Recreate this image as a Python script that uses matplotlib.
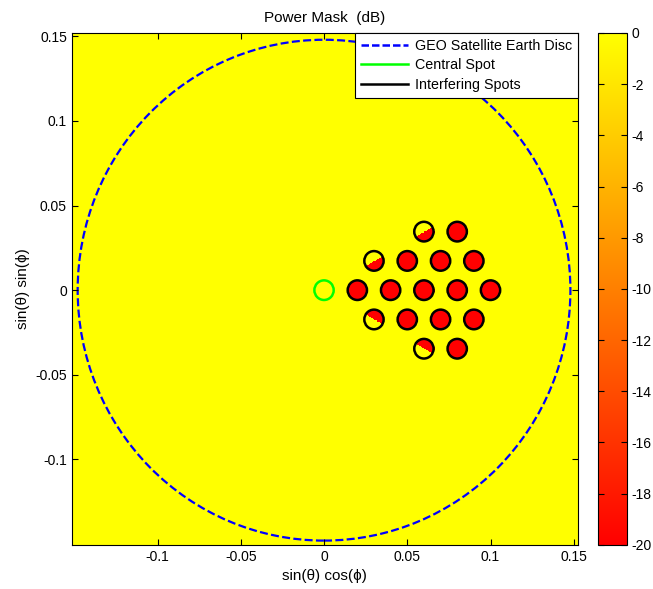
import numpy as np
import matplotlib.pyplot as plt
from matplotlib.patches import Circle
from matplotlib.lines import Line2D

plt.rcParams['font.family'] = ['Liberation Sans', 'DejaVu Sans']
plt.rcParams['axes.unicode_minus'] = False

# geometry of the coverage (u = sin(theta)cos(phi), v = sin(theta)sin(phi))
earth_radius = 0.148
spot_radius = 0.0058
central_spot = (0.0, 0.0)
spot_u = [0.06, 0.08,
          0.03, 0.05, 0.07, 0.09,
          0.02, 0.04, 0.06, 0.08, 0.10,
          0.03, 0.05, 0.07, 0.09,
          0.06, 0.08]
spot_v = [0.0346, 0.0346,
          0.0173, 0.0173, 0.0173, 0.0173,
          0.0, 0.0, 0.0, 0.0, 0.0,
          -0.0173, -0.0173, -0.0173, -0.0173,
          -0.0346, -0.0346]
max_angle_deg = 30.0
mask_on = -20.0
mask_off = 0.0

xlim = (-0.1515, 0.1525)
ylim = (-0.1505, 0.1520)
xticks = [-0.1, -0.05, 0, 0.05, 0.1, 0.15]
yticks = [-0.1, -0.05, 0, 0.05, 0.1, 0.15]
cbar_ticks = [0, -2, -4, -6, -8, -10, -12, -14, -16, -18, -20]


def power_mask(n=800):
    u = np.linspace(xlim[0], xlim[1], n)
    v = np.linspace(ylim[0], ylim[1], n)
    U, V = np.meshgrid(u, v)
    inside = np.zeros_like(U, dtype=bool)
    for su, sv in zip(spot_u, spot_v):
        inside |= (U - su) ** 2 + (V - sv) ** 2 <= spot_radius ** 2
    ang = np.degrees(np.abs(np.arctan2(V, U)))
    inside &= ang <= max_angle_deg
    return np.where(inside, mask_on, mask_off)


fig = plt.figure(figsize=(6.53, 5.89), dpi=100)
ax = fig.add_axes([0.110, 0.075, 0.775, 0.869])
im = ax.imshow(power_mask(), extent=[xlim[0], xlim[1], ylim[0], ylim[1]],
               origin='lower', cmap='autumn', vmin=-20, vmax=0,
               aspect='auto', interpolation='nearest')

ax.add_patch(Circle((0, 0), earth_radius, fill=False, color='#0000ff',
                    lw=1.6, ls=(0, (3.6, 1.5))))
ax.add_patch(Circle(central_spot, spot_radius, fill=False, color='#00ff00', lw=1.8))
for su, sv in zip(spot_u, spot_v):
    ax.add_patch(Circle((su, sv), spot_radius, fill=False, color='black', lw=1.8))

ax.set_xlim(xlim)
ax.set_ylim(ylim)
ax.set_xticks(xticks)
ax.set_xticklabels(['%g' % t for t in xticks])
ax.set_yticks(yticks)
ax.set_yticklabels(['%g' % t for t in yticks])
ax.tick_params(direction='in', labelsize=10, top=True, right=True, length=4)
ax.set_xlabel('sin(θ) cos(ϕ)', fontsize=11)
ax.set_ylabel('sin(θ) sin(ϕ)', fontsize=11)
ax.set_title('Power Mask  (dB)', fontsize=11, pad=8)

handles = [Line2D([], [], color='#0000ff', lw=1.8, ls=(0, (3.0, 1.2))),
           Line2D([], [], color='#00ff00', lw=1.8),
           Line2D([], [], color='black', lw=1.8)]
leg = ax.legend(handles, ['GEO Satellite Earth Disc', 'Central Spot', 'Interfering Spots'],
                loc='upper right', borderaxespad=0, fancybox=False, framealpha=1,
                edgecolor='black', fontsize=10.3, handlelength=3.3,
                labelspacing=0.4, borderpad=0.4, handletextpad=0.5)
leg.get_frame().set_linewidth(0.8)

cax = fig.add_axes([0.916, 0.075, 0.044, 0.869])
cb = fig.colorbar(im, cax=cax, ticks=cbar_ticks)
cb.ax.set_yticklabels(['%g' % t for t in cbar_ticks])
cb.ax.tick_params(direction='in', left=True, right=True, length=4, labelsize=10)
cb.outline.set_linewidth(0.8)

fig.savefig('out.png', dpi=100)
